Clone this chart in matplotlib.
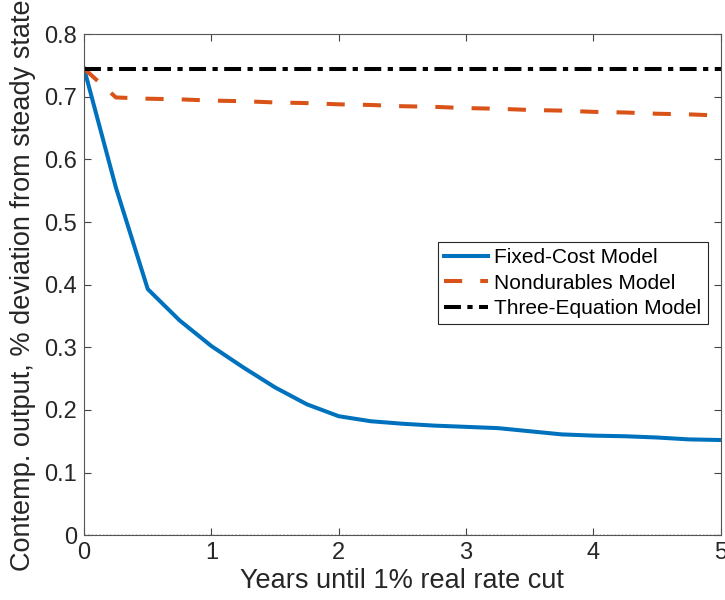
import numpy as np
import matplotlib
matplotlib.use("Agg")
import matplotlib.pyplot as plt

plt.rcParams['font.family'] = ['Liberation Sans', 'DejaVu Sans']

# quarterly horizon, in years
years = [0, 0.25, 0.5, 0.75, 1.0, 1.25, 1.5, 1.75, 2.0, 2.25, 2.5, 2.75, 3.0,
         3.25, 3.5, 3.75, 4.0, 4.25, 4.5, 4.75, 5.0]

fixed_cost = [0.745, 0.555, 0.393, 0.343, 0.302, 0.268, 0.236, 0.209, 0.190,
              0.182, 0.178, 0.175, 0.173, 0.171, 0.166, 0.161, 0.159, 0.158,
              0.156, 0.153, 0.152]
nondurables = [0.745, 0.699, 0.697, 0.696, 0.694, 0.693, 0.691, 0.690, 0.688,
               0.687, 0.685, 0.684, 0.682, 0.681, 0.679, 0.678, 0.676, 0.675,
               0.673, 0.672, 0.670]
three_eq = [0.745] * len(years)

labels = ["Fixed-Cost Model", "Nondurables Model", "Three-Equation Model"]

fig = plt.figure(figsize=(7.25, 6), dpi=100)
ax = fig.add_axes([0.116, 0.108, 0.878, 0.835])

ax.plot(years, fixed_cost, color='#0072BD', lw=2.9, label=labels[0])
ax.plot(years, nondurables, color='#D95319', lw=2.9, ls=(0, (4.5, 4.5)),
        label=labels[1])
ax.plot(years, three_eq, color='black', lw=2.9, ls=(0, (4.2, 1.6, 1.3, 1.6)),
        label=labels[2])
ax.axhline(0, color='black', lw=1, ls=':', zorder=1)

ax.set_xlim(0, 5)
ax.set_ylim(0, 0.8)
ax.set_xticks(range(6))
ax.set_yticks(np.arange(0, 0.81, 0.1))
ax.set_yticklabels(['0', '0.1', '0.2', '0.3', '0.4', '0.5', '0.6', '0.7', '0.8'])
ax.tick_params(direction='in', length=5, width=0.8, color='#444444',
               labelsize=17, labelcolor='#262626', top=True, right=True, pad=5)
for s in ax.spines.values():
    s.set_color('#555555')
    s.set_linewidth(0.8)

ax.set_xlabel("Years until 1% real rate cut", fontsize=19.5, color='#262626',
              labelpad=3)
ax.set_ylabel("Contemp. output, % deviation from steady state", fontsize=19.5,
              color='#262626', labelpad=6)

leg = ax.legend(loc='upper left', bbox_to_anchor=(0.556, 0.585),
                borderaxespad=0, fontsize=15, fancybox=False,
                edgecolor='#262626', framealpha=1, handlelength=2.1,
                handletextpad=0.3, labelspacing=0.3, borderpad=0.3)
leg.get_frame().set_linewidth(0.8)

fig.savefig("out.png", dpi=100)
